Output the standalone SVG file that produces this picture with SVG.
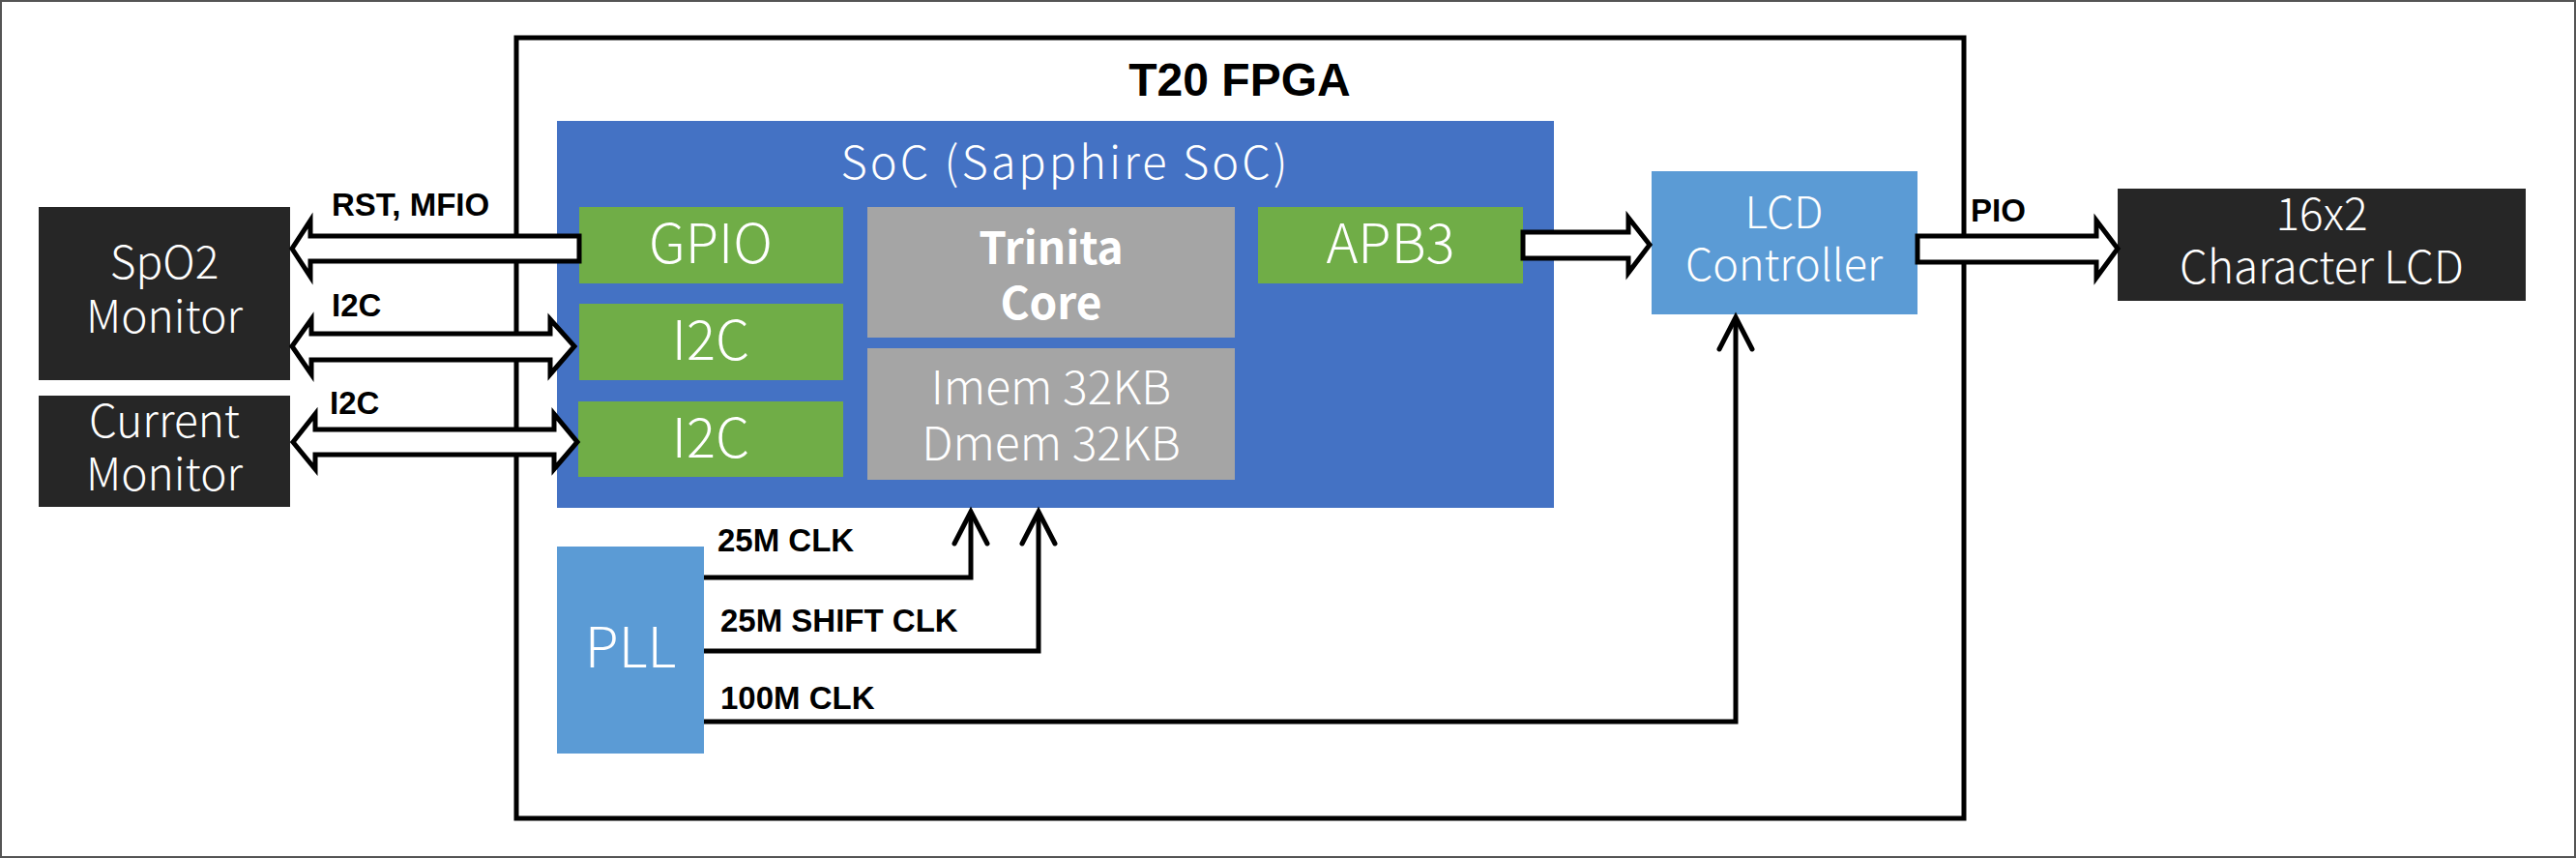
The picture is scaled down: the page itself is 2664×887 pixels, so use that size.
<svg xmlns="http://www.w3.org/2000/svg" width="2664" height="887" viewBox="0 0 2664 887">
<defs>
<style>
.lt{font-family:"Noto Sans CJK JP","Noto Sans",sans-serif;font-weight:300;fill:#fff;text-anchor:middle}
.bd{font-family:"Liberation Sans","Noto Sans",sans-serif;font-weight:bold;fill:#000}
.blk{fill:#262626}
.grn{fill:#70AD47}
.gry{fill:#A5A5A5}
.lb{fill:#5B9BD5}
.fat{fill:#fff;stroke:#000;stroke-width:5;stroke-linejoin:miter}
.thin{fill:none;stroke:#000;stroke-width:5;stroke-linejoin:miter}
</style>
<marker id="open" markerUnits="userSpaceOnUse" orient="auto" refX="0" refY="0" overflow="visible">
<path d="M -33,-17 L 0,0 L -33,17" fill="none" stroke="#000" stroke-width="5" stroke-linecap="round" stroke-linejoin="miter"/>
</marker>
</defs>
<rect x="0" y="0" width="2664" height="887" fill="#fff"/>
<rect x="1" y="1" width="2662" height="885" fill="none" stroke="#555" stroke-width="2"/>

<g id="fpga">
<rect x="534" y="39" width="1497" height="807" fill="none" stroke="#000" stroke-width="5"/>
<text class="bd" x="1282" y="99" font-size="48" text-anchor="middle">T20 FPGA</text>
</g>

<g id="soc">
<rect x="576" y="125" width="1031" height="400" fill="#4472C4"/>
<text class="lt" x="1102" y="185" font-size="47" letter-spacing="3">SoC (Sapphire SoC)</text>
</g>

<g id="gpio">
<rect class="grn" x="599" y="214" width="273" height="79"/>
<text class="lt" x="735" y="272" font-size="56">GPIO</text>
</g>
<g id="i2c1">
<rect class="grn" x="599" y="314" width="273" height="79"/>
<text class="lt" x="735" y="372" font-size="56">I2C</text>
</g>
<g id="i2c2">
<rect class="grn" x="598" y="415" width="274" height="78"/>
<text class="lt" x="735" y="473" font-size="56">I2C</text>
</g>
<g id="core">
<rect class="gry" x="897" y="214" width="380" height="135"/>
<text class="lt" x="1087" y="273" font-size="46" style="font-weight:bold">Trinita</text>
<text class="lt" x="1087" y="330" font-size="46" style="font-weight:bold">Core</text>
</g>
<g id="mem">
<rect class="gry" x="897" y="360" width="380" height="136"/>
<text class="lt" x="1087" y="418" font-size="48">Imem 32KB</text>
<text class="lt" x="1087" y="476" font-size="48">Dmem 32KB</text>
</g>
<g id="apb3">
<rect class="grn" x="1301" y="214" width="274" height="79"/>
<text class="lt" x="1438" y="272" font-size="56">APB3</text>
</g>

<g id="lcdctrl">
<rect class="lb" x="1708" y="177" width="275" height="148"/>
<text class="lt" x="1845" y="236" font-size="45">LCD</text>
<text class="lt" x="1845" y="290" font-size="45">Controller</text>
</g>

<g id="pll">
<rect class="lb" x="576" y="565" width="152" height="214"/>
<text class="lt" x="652" y="690" font-size="57">PLL</text>
</g>

<g id="spo2">
<rect class="blk" x="40" y="214" width="260" height="179"/>
<text class="lt" x="170" y="288" font-size="46">SpO2</text>
<text class="lt" x="170" y="344" font-size="46">Monitor</text>
</g>
<g id="curmon">
<rect class="blk" x="40" y="409" width="260" height="115"/>
<text class="lt" x="170" y="452" font-size="46">Current</text>
<text class="lt" x="170" y="507" font-size="46">Monitor</text>
</g>
<g id="lcd">
<rect class="blk" x="2190" y="195" width="422" height="116"/>
<text class="lt" x="2401" y="238" font-size="46">16x2</text>
<text class="lt" x="2401" y="293" font-size="46">Character LCD</text>
</g>

<g id="connectors">
<polygon class="fat" points="599,244 321,244 321,228 302,257 321,286 321,270 599,270"/>
<polygon class="fat" points="302,358 322,330 322,345 569,345 569,330 594,358 569,387 569,372 322,372 322,387"/>
<polygon class="fat" points="303,457 326,428 326,444 573,444 573,428 597,457 573,485 573,470 326,470 326,485"/>
<polygon class="fat" points="1575,240 1684,240 1684,225 1706,253 1684,282 1684,267 1575,267"/>
<polygon class="fat" points="1983,244 2168,244 2168,228 2190,257 2168,287 2168,271 1983,271"/>
<path class="thin" d="M 728 597 H 1004 V 529" marker-end="url(#open)"/>
<path class="thin" d="M 728 673 H 1074 V 529" marker-end="url(#open)"/>
<path class="thin" d="M 728 746 H 1795 V 328" marker-end="url(#open)"/>
<text class="bd" x="343" y="223" font-size="33">RST, MFIO</text>
<text class="bd" x="343" y="327" font-size="33">I2C</text>
<text class="bd" x="341" y="428" font-size="33">I2C</text>
<text class="bd" x="2038" y="229" font-size="33">PIO</text>
<text class="bd" x="742" y="570" font-size="33">25M CLK</text>
<text class="bd" x="745" y="653" font-size="33">25M SHIFT CLK</text>
<text class="bd" x="745" y="733" font-size="33">100M CLK</text>
</g>
</svg>
